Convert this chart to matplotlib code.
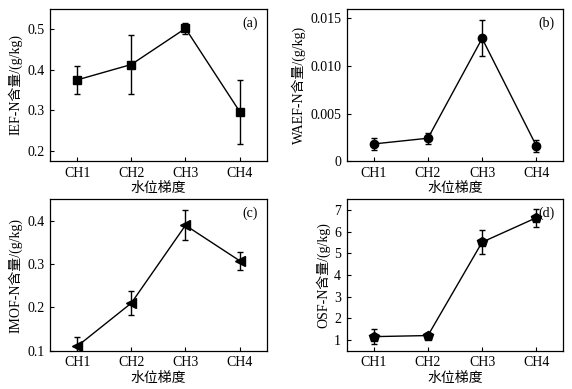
import numpy as np
import matplotlib
matplotlib.use("Agg")
import matplotlib.pyplot as plt

plt.rcParams["font.family"] = ["Liberation Serif", "Noto Sans CJK SC"]
plt.rcParams["font.size"] = 10
plt.rcParams["xtick.direction"] = "in"
plt.rcParams["ytick.direction"] = "in"

sites = ["CH1", "CH2", "CH3", "CH4"]

ief = [0.375, 0.413, 0.502, 0.297]
ief_err = [0.035, 0.072, 0.014, 0.079]

waef = [0.0018, 0.0024, 0.0129, 0.0016]
waef_err = [0.0006, 0.0006, 0.0019, 0.0006]

imof = [0.110, 0.210, 0.390, 0.308]
imof_err = [0.022, 0.027, 0.035, 0.021]

osf = [1.15, 1.20, 5.52, 6.65]
osf_err = [0.33, 0.12, 0.55, 0.42]

panels = [
    (ief, ief_err, "s", "IEF-N含量/(g/kg)", (0.175, 0.55), [0.2, 0.3, 0.4, 0.5], "(a)"),
    (waef, waef_err, "o", "WAEF-N含量/(g/kg)", (0, 0.016), [0, 0.005, 0.010, 0.015], "(b)"),
    (imof, imof_err, "<", "IMOF-N含量/(g/kg)", (0.1, 0.45), [0.1, 0.2, 0.3, 0.4], "(c)"),
    (osf, osf_err, "p", "OSF-N含量/(g/kg)", (0.5, 7.5), [1, 2, 3, 4, 5, 6, 7], "(d)"),
]
fmts = [
    lambda v: f"{v:.1f}",
    lambda v: "0" if v == 0 else f"{v:.3f}",
    lambda v: f"{v:.1f}",
    lambda v: f"{v:g}",
]

positions = [
    [0.0874, 0.586, 0.379, 0.391],
    [0.606, 0.586, 0.379, 0.391],
    [0.0874, 0.0985, 0.379, 0.389],
    [0.606, 0.0985, 0.379, 0.389],
]

fig = plt.figure(figsize=(5.72, 3.89), dpi=100)
x = np.arange(1, 5)
for (vals, errs, mk, ylab, ylim, yticks, tag), pos, fmt in zip(panels, positions, fmts):
    ax = fig.add_axes(pos)
    ms = 7 if mk in ("<", "p") else 6
    ax.errorbar(x, vals, yerr=errs, color="black", marker=mk, markersize=ms,
                linewidth=1.0, elinewidth=1.0, capsize=2.2, capthick=1.0)
    ax.set_xlim(0.5, 4.5)
    ax.set_ylim(*ylim)
    ax.set_xticks(x)
    ax.set_xticklabels(sites)
    ax.set_yticks(yticks)
    ax.set_yticklabels([fmt(v) for v in yticks])
    ax.tick_params(top=False, right=False, length=3, width=0.8, pad=4)
    ax.set_xlabel("水位梯度", labelpad=2)
    ax.set_ylabel(ylab, labelpad=3)
    ax.text(0.96, 0.95, tag, transform=ax.transAxes, ha="right", va="top")
    for s in ax.spines.values():
        s.set_linewidth(0.9)

fig.savefig("out.png", dpi=100)
